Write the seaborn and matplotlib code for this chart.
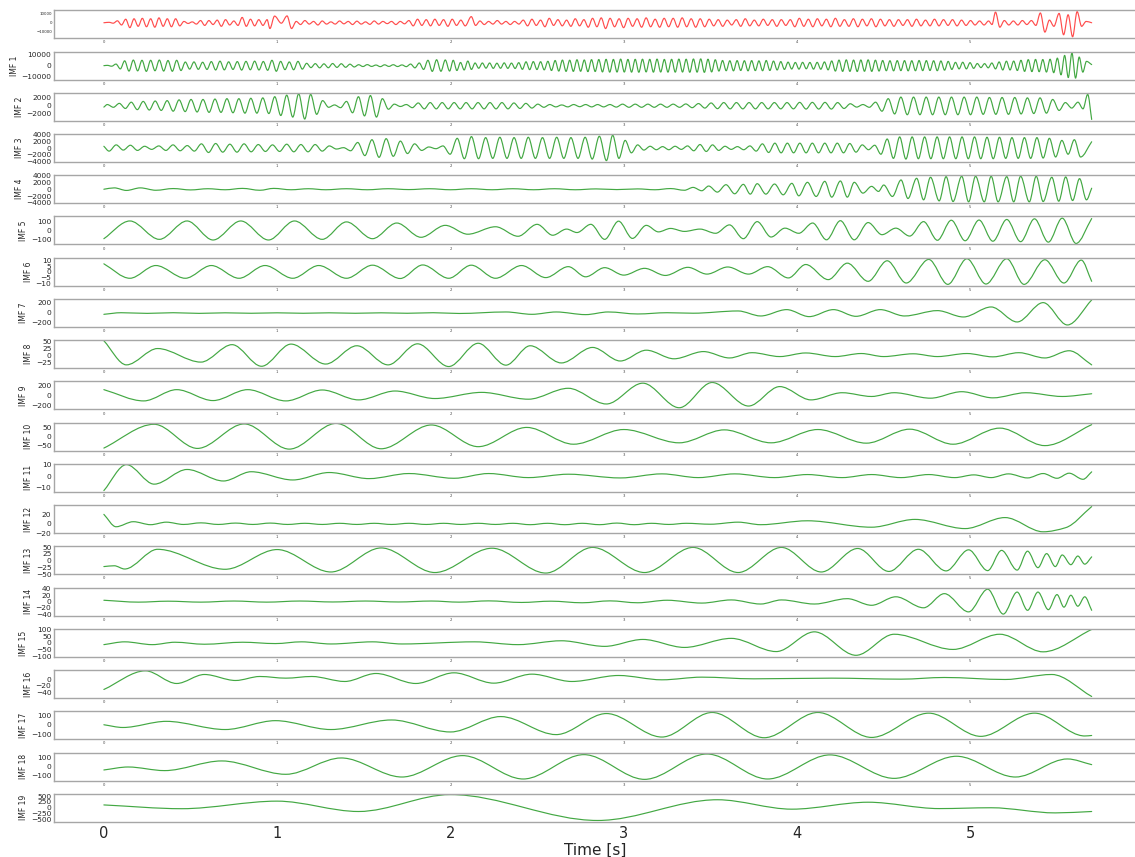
import numpy as np
import matplotlib
matplotlib.use("Agg")
import matplotlib.pyplot as plt
from matplotlib.path import Path
from matplotlib.patches import PathPatch
import seaborn as sns

# extrema (time in s, value), panel by panel

sig_t = [0.000, 0.030, 0.054, 0.078, 0.102, 0.126, 0.150, 0.174, 0.198, 0.222,
         0.246, 0.270, 0.294, 0.318, 0.342, 0.366, 0.390, 0.414, 0.438, 0.462,
         0.486, 0.510, 0.534, 0.558, 0.582, 0.606, 0.630, 0.654, 0.678, 0.702,
         0.726, 0.750, 0.774, 0.798, 0.822, 0.846, 0.870, 0.894, 0.918, 0.942,
         0.958, 0.985, 1.024, 1.057, 1.083, 1.110, 1.135, 1.160, 1.185, 1.210,
         1.235, 1.260, 1.285, 1.310, 1.335, 1.360, 1.385, 1.410, 1.435, 1.460,
         1.485, 1.510, 1.535, 1.560, 1.585, 1.610, 1.635, 1.660, 1.685, 1.710,
         1.735, 1.760, 1.785, 1.810, 1.835, 1.860, 1.885, 1.910, 1.935, 1.960,
         1.985, 2.010, 2.035, 2.060, 2.085, 2.120, 2.145, 2.170, 2.195, 2.220,
         2.245, 2.270, 2.295, 2.320, 2.345, 2.370, 2.395, 2.420, 2.445, 2.470,
         2.495, 2.520, 2.545, 2.570, 2.595, 2.620, 2.645, 2.670, 2.695, 2.720,
         2.745, 2.770, 2.795, 2.820, 2.845, 2.870, 2.895, 2.921, 2.947, 2.973,
         2.999, 3.025, 3.051, 3.077, 3.103, 3.129, 3.155, 3.181, 3.207, 3.233,
         3.259, 3.285, 3.311, 3.337, 3.363, 3.389, 3.415, 3.441, 3.467, 3.493,
         3.519, 3.545, 3.571, 3.597, 3.623, 3.649, 3.675, 3.701, 3.727, 3.753,
         3.779, 3.805, 3.831, 3.857, 3.883, 3.909, 3.935, 3.961, 3.987, 4.013,
         4.039, 4.065, 4.091, 4.117, 4.143, 4.169, 4.195, 4.221, 4.247, 4.273,
         4.299, 4.325, 4.351, 4.377, 4.403, 4.429, 4.455, 4.481, 4.507, 4.533,
         4.559, 4.585, 4.611, 4.637, 4.663, 4.689, 4.715, 4.741, 4.767, 4.793,
         4.819, 4.845, 4.871, 4.897, 4.923, 4.949, 4.975, 5.001, 5.027, 5.053,
         5.079, 5.105, 5.125, 5.145, 5.170, 5.196, 5.222, 5.248, 5.274, 5.300,
         5.326, 5.352, 5.378, 5.404, 5.430, 5.456, 5.482, 5.512, 5.538, 5.564,
         5.590, 5.616, 5.642, 5.668, 5.700]
sig_v = [0, 500, -500, 2200, -2500, 4000, -5500, 4500, -4000, 5000,
         -4500, 4500, -5000, 5500, -4000, 4500, -4500, 4500, -3500, 1500,
         -800, 1000, -1500, 2500, -3000, 2500, -2000, 3000, -4000, 3500,
         -2500, 2000, -3000, 6000, -4000, 4000, -3500, 3500, -3000, 3500,
         -6500, 7500, -500, 7700, -6500, 1500, -2000, 2500, -1500, 1500,
         -2500, 2000, -1500, 1000, -1500, 2000, -1200, 1500, -2000, 1800,
         -1500, 1000, -1800, 2000, -1500, 1500, -1000, 1500, -2000, 1500,
         -1200, 2500, -3500, 4000, -3000, 3500, -3500, 4000, -3000, 3500,
         -4000, 4000, -3000, 3000, -3500, 6900, -3000, 2000, -2000, 1500,
         -1500, 2500, -1500, 1500, -2000, 1500, -1500, 3000, -3500, 4000,
         -3000, 3000, -4500, 5000, -3000, 3500, -3500, 3000, -4000, 4500,
         -3500, 3500, -5000, 5000, -4500, 5500, -6500, 5000, -4500, 4500,
         -5500, 5000, -4000, 4500, -5000, 5500, -4500, 4000, -5000, 5000,
         -4500, 5000, -5000, 5500, -4500, 4500, -5000, 4500, -4500, 4000,
         -3500, 3500, -4000, 3000, -2500, 3500, -4000, 4500, -3500, 3000,
         -3500, 4000, -3000, 3500, -4000, 3500, -3000, 3500, -4500, 5000,
         -4000, 4000, -4500, 4500, -3500, 4000, -4500, 5000, -4000, 3500,
         -4000, 4500, -4500, 4000, -3500, 4500, -4500, 4000, -3500, 3500,
         -4000, 3500, -3000, 3500, -4000, 4000, -3500, 3000, -3500, 4000,
         -3500, 3500, -3000, 3500, -3500, 3000, -3000, 2500, -2500, 2000,
         -2500, 2000, -2000, 12000, -5000, 2500, -2500, 2000, -2500, 2500,
         -2000, 2500, -3000, 11000, -10500, 3000, -4000, 10500, -13500, 9000,
         -15800, 12500, -4000, 1500, 0]

imf1_t = [0.000,
          0.020, 0.045, 0.070, 0.095, 0.120, 0.145, 0.170, 0.195, 0.220, 0.245,
          0.270, 0.295, 0.320, 0.345, 0.370, 0.395, 0.420, 0.445, 0.470, 0.495,
          0.520, 0.545, 0.570, 0.595, 0.620, 0.645, 0.670, 0.695, 0.720, 0.745,
          0.770, 0.795, 0.820, 0.845, 0.870, 0.895, 0.920, 0.945, 0.970, 0.995,
          1.020, 1.045, 1.070, 1.095, 1.120, 1.145, 1.170, 1.195, 1.220, 1.245,
          1.270, 1.295, 1.320, 1.345, 1.370, 1.395, 1.420, 1.445, 1.470, 1.495,
          1.520, 1.545, 1.570, 1.595, 1.620, 1.645, 1.670, 1.695, 1.720, 1.745,
          1.770, 1.795, 1.820, 1.845, 1.870, 1.895, 1.920, 1.945, 1.970, 1.995,
          2.016, 2.037, 2.058, 2.079, 2.100, 2.121, 2.142, 2.163, 2.184, 2.205,
          2.226, 2.247, 2.268, 2.289, 2.310, 2.331, 2.352, 2.373, 2.394, 2.415,
          2.436, 2.457, 2.478, 2.499, 2.520, 2.541, 2.562, 2.583, 2.604, 2.625,
          2.646, 2.667, 2.688, 2.709, 2.730, 2.751, 2.772, 2.793, 2.814, 2.835,
          2.856, 2.877, 2.898, 2.919, 2.940, 2.961, 2.982, 3.003, 3.024, 3.045,
          3.066, 3.087, 3.108, 3.129, 3.150, 3.171, 3.192, 3.213, 3.234, 3.255,
          3.276, 3.297, 3.318, 3.339, 3.360, 3.381, 3.402, 3.423, 3.444, 3.465,
          3.486, 3.507, 3.528, 3.549, 3.570, 3.591, 3.612, 3.633, 3.654, 3.675,
          3.696, 3.717, 3.738, 3.759, 3.780, 3.801, 3.822, 3.843, 3.864, 3.885,
          3.906, 3.927, 3.948, 3.969, 3.990, 4.011, 4.032, 4.053, 4.074, 4.095,
          4.116, 4.137, 4.158, 4.179, 4.200, 4.221, 4.242, 4.263, 4.284, 4.305,
          4.326, 4.347, 4.368, 4.389, 4.410, 4.431, 4.452, 4.473, 4.494, 4.515,
          4.536, 4.557, 4.578, 4.599, 4.620, 4.641, 4.662, 4.683, 4.704, 4.725,
          4.746, 4.767, 4.788, 4.809, 4.830, 4.851, 4.872, 4.893, 4.914, 4.935,
          4.956, 4.977, 4.998, 5.019, 5.040, 5.061, 5.082, 5.103, 5.124, 5.145,
          5.166, 5.187, 5.208, 5.229, 5.250, 5.271, 5.292, 5.313, 5.334, 5.355,
          5.376, 5.397, 5.418, 5.439, 5.460, 5.481, 5.502, 5.523, 5.544, 5.565,
          5.586, 5.607, 5.628, 5.649, 5.670,
          5.700]
imf1_v = [0,
          300, -500, 1500, -3000, 4500, -5000, 5200, -4800, 5000, -5300,
          5000, -4700, 5200, -5000, 4800, -5200, 5000, -4500, 3400, -3200,
          3500, -3400, 3200, -3500, 3800, -4000, 4200, -3900, 3600, -3500,
          3800, -4100, 4000, -3800, 4200, -4000, 3900, -4300, 5000, -5200,
          4000, -3700, 3500, -3800, 4000, -3200, 2200, -1800, 1900, -2000,
          1700, -1900, 2000, -1600, 1800, -1500, 1400, -1200, 900, -800,
          1000, -700, 600, -900, 800, -700, 900, -800, 700, -900,
          1500, -2000, 2500, -3500, 5000, -5300, 5500, -5200, 5300, -5000,
          5000, -4500, 3000, -4000, 4300, -3500, 2500, -2400, 2500, -2300,
          2500, -2500, 2300, -2400, 2600, -2500, 2400, -2600, 2800, -3400,
          3600, -3700, 3800, -3600, 3700, -3900, 4100, -4500, 4800, -5000,
          5200, -5300, 5100, -5300, 5500, -5200, 5300, -5500, 5600, -5400,
          5700, -5800, 5900, -6000, 5800, -5900, 6100, -5900, 5800, -6000,
          5900, -6100, 6000, -5800, 5900, -6000, 6100, -5900, 5800, -6000,
          5900, -6000, 6100, -5900, 6000, -6100, 6200, -6000, 6300, -6200,
          6000, -5800, 5500, -5000, 4800, -4700, 4600, -4800, 4700, -4500,
          4600, -4800, 4700, -4600, 4500, -4700, 4800, -4500, 4300, -4000,
          3800, -3500, 3300, -3100, 3000, -3200, 3100, -2900, 3000, -3200,
          3100, -3300, 3500, -3900, 4400, -5000, 5200, -5300, 5400, -5300,
          5200, -5400, 5300, -5200, 5400, -5300, 5100, -5000, 4800, -4700,
          4600, -4800, 4700, -4600, 4700, -4800, 4600, -4700, 4800, -4600,
          4700, -4500, 4600, -4700, 4400, -4200, 4000, -3500, 3100, -3000,
          3200, -3000, 2800, -2500, 2000, -1800, 1900, -2000, 2500, -3000,
          3500, -4000, 4200, -4000, 4300, -4500, 5000, -5300, 5600, -5500,
          5800, -5600, 5700, -5900, 6000, -6500, 7000, -8500, 9500, -11000,
          11800, -11500, 8000, -6000, 4000,
          1000]

imf2_t = [0.000,
          0.020, 0.055, 0.089, 0.124, 0.158, 0.193, 0.227, 0.262, 0.296, 0.331,
          0.365, 0.400, 0.434, 0.469, 0.503, 0.538, 0.572, 0.607, 0.641, 0.676,
          0.710, 0.745, 0.779, 0.814, 0.848, 0.883, 0.917, 0.952, 0.986, 1.021,
          1.055, 1.090, 1.124, 1.159, 1.193, 1.228, 1.262, 1.297, 1.331, 1.366,
          1.400, 1.435, 1.469, 1.504, 1.538, 1.573, 1.607, 1.642, 1.676, 1.711,
          1.745, 1.780, 1.814, 1.849, 1.883, 1.918, 1.952, 1.987, 2.021, 2.056,
          2.090, 2.125, 2.159, 2.194, 2.228, 2.263, 2.297, 2.332, 2.366, 2.401,
          2.435, 2.470, 2.504, 2.539, 2.573, 2.608, 2.642, 2.677, 2.711, 2.746,
          2.780, 2.815, 2.849, 2.884,
          2.920, 2.957, 2.993, 3.030, 3.066, 3.103, 3.139, 3.176, 3.212, 3.249,
          3.285, 3.322, 3.358, 3.395, 3.431, 3.468, 3.504, 3.541, 3.577, 3.614,
          3.650, 3.687, 3.723, 3.760, 3.796, 3.833, 3.869, 3.906, 3.942, 3.979,
          4.015, 4.052, 4.088, 4.125, 4.161, 4.198, 4.234, 4.271, 4.307, 4.344,
          4.380, 4.417, 4.453, 4.490, 4.526, 4.563, 4.599, 4.636, 4.672, 4.709,
          4.745, 4.782, 4.818, 4.855, 4.891, 4.928, 4.964, 5.001, 5.037, 5.074,
          5.110, 5.147, 5.183, 5.220, 5.256, 5.293, 5.329, 5.366, 5.402, 5.439,
          5.475, 5.512, 5.548, 5.585, 5.621,
          5.650, 5.677, 5.700]
imf2_v = [-350,
          300, -400, 600, -700, 900, -1000, 1100, -1100, 1200, -1200,
          1300, -1400, 1500, -1500, 1600, -1600, 1600, -1700, 1700, -1700,
          1800, -1800, 1800, -1900, 1900, -1900, 2000, -2000, 2300, -2500,
          2700, -2900, 3050, -3400, 2900, -2200, 1300, -400, 200, -500,
          1100, -1800, 2300, -2600, 2600, -2900, 1800, -900, 400, -200,
          300, -500, 700, -800, 800, -800, 800, -800, 800, -800,
          800, -800, 800, -800, 800, -800, 800, -800, 700, -700,
          600, -600, 400, -400, 300, -300, 200, -300, 300, -250,
          300, -300, 300, -300,
          300, -350, 400, -400, 400, -400, 400, -400, 400, -400,
          400, -400, 450, -500, 550, -600, 700, -750, 800, -800,
          800, -800, 800, -800, 800, -800, 800, -800, 800, -800,
          850, -850, 850, -850, 850, -850, 800, -700, 500, -350,
          300, -400, 900, -1400, 1800, -2100, 2200, -2300, 2200, -2300,
          2200, -2300, 2200, -2300, 2200, -2300, 2200, -2300, 2200, -2200,
          2100, -2200, 2100, -2200, 2100, -2100, 2000, -2000, 2000, -1900,
          1600, -1200, 800, -600, 900,
          -800, 2900, -3500]

imf3_t = [0.000,
          0.030, 0.071, 0.112, 0.153, 0.194, 0.235, 0.276, 0.317, 0.358, 0.399,
          0.440, 0.481, 0.522, 0.563, 0.604, 0.645, 0.686, 0.727, 0.768, 0.809,
          0.850, 0.891, 0.932, 0.973, 1.014, 1.055, 1.096, 1.137, 1.178, 1.219,
          1.260, 1.301, 1.342, 1.383, 1.424, 1.465, 1.506, 1.547, 1.588, 1.629,
          1.670, 1.711, 1.752, 1.793, 1.834, 1.875, 1.916, 1.957, 1.998, 2.039,
          2.080, 2.121, 2.162, 2.203, 2.244, 2.285, 2.326, 2.367, 2.408, 2.449,
          2.490, 2.531, 2.572, 2.613, 2.654, 2.695, 2.736, 2.777, 2.818, 2.859,
          2.900,
          2.936, 2.972, 3.008, 3.044, 3.080, 3.116, 3.152, 3.188, 3.224, 3.260,
          3.296, 3.332, 3.368, 3.404, 3.440, 3.476, 3.512, 3.548, 3.584, 3.620,
          3.656, 3.692, 3.728, 3.764, 3.800, 3.836, 3.872, 3.908, 3.944, 3.980,
          4.016, 4.052, 4.088, 4.124, 4.160, 4.196, 4.232, 4.268, 4.304, 4.340,
          4.376, 4.412, 4.448, 4.484, 4.520, 4.556, 4.592, 4.628, 4.664, 4.700,
          4.736, 4.772, 4.808, 4.844, 4.880, 4.916, 4.952, 4.988, 5.024, 5.060,
          5.096, 5.132, 5.168, 5.204, 5.240, 5.276, 5.312, 5.348, 5.384, 5.420,
          5.456, 5.492, 5.528, 5.564, 5.600, 5.636,
          5.700]
imf3_v = [500,
          -900, 900, -600, 800, -700, 500, -400, 600, -700, 900,
          -800, 700, -900, 1200, -1300, 1300, -1200, 1100, -1200, 1200,
          -1100, 1000, -1000, 900, -1000, 1100, -1100, 1000, -1100, 1000,
          -900, 600, -300, 100, -800, 1600, -2200, 2400, -2700, 2700,
          -2400, 2000, -1600, 1200, -700, 300, -200, 600, -1800, 2800,
          -3100, 3300, -3100, 3000, -3000, 3100, -3000, 3000, -3000, 3100,
          -3000, 3000, -3000, 3100, -3000, 3000, -3000, 3100, -3200, 3400,
          -3650,
          3700, -3000, 2200, -1400, 900, -600, 500, -500, 400, -500,
          500, -400, 600, -800, 1000, -1000, 900, -700, 500, -400,
          400, -500, 600, -900, 1200, -1300, 1400, -1400, 1400, -1400,
          1400, -1400, 1400, -1400, 1400, -1400, 1400, -1400, 1300, -1200,
          900, -500, 800, -1800, 2600, -3000, 3200, -3200, 3200, -3100,
          3200, -3100, 3200, -3100, 3200, -3100, 3200, -3100, 3200, -3100,
          3100, -3100, 3100, -3000, 3000, -3000, 3000, -3000, 3000, -2900,
          2800, -2600, 2200, -1800, 2400, -2600,
          1800]

imf4_t = [0.00, 0.06, 0.13, 0.21, 0.30, 0.40, 0.50, 0.60, 0.70, 0.80,
          0.90, 0.98, 1.08, 1.18, 1.28, 1.40, 1.52, 1.64, 1.76, 1.88,
          2.00, 2.12, 2.24, 2.36, 2.48, 2.60, 2.72, 2.84, 2.96, 3.08,
          3.18, 3.27, 3.35, 3.40, 3.45, 3.49, 3.54, 3.59, 3.64, 3.69,
          3.73, 3.77, 3.82, 3.87, 3.92, 3.97, 4.01, 4.06, 4.11, 4.16,
          4.20, 4.25, 4.29, 4.33, 4.38, 4.43, 4.47, 4.50, 4.55, 4.60,
          4.64, 4.69, 4.73, 4.77, 4.82, 4.86, 4.90, 4.95, 4.99, 5.03,
          5.08, 5.12, 5.16, 5.21, 5.25, 5.29, 5.34, 5.38, 5.42, 5.47,
          5.51, 5.55, 5.59, 5.63, 5.67, 5.70]
imf4_v = [0, 400, -350, 400, -300, 200, -200, 150, -150, 250,
          -300, 250, -150, 150, -150, 150, -150, 150, -100, 150,
          -150, 150, -150, 150, -150, 150, -150, 100, -100, 100,
          -150, 200, -300, 540, -440, 940, -840, 1330, -1330, 1430,
          -1430, 1630, -1430, 1530, -1630, 1730, -1930, 2030, -2120, 2320,
          -2320, 2420, -2320, 2030, -1140, 840, -640, 1240, -2120, 2720,
          -2720, 3210, -3110, 3510, -3410, 3700, -3610, 3800, -3700, 3800,
          -3700, 3800, -3700, 3700, -3700, 3800, -3700, 3800, -3610, 3510,
          -3510, 3610, -3310, 3110, -3110, 300]

imf5_t = [0.00, 0.15, 0.32, 0.48, 0.63, 0.79, 0.95, 1.10, 1.26, 1.40,
          1.55, 1.69, 1.83, 1.97, 2.10, 2.26, 2.39, 2.50, 2.59, 2.67,
          2.73, 2.81, 2.89, 2.97, 3.05, 3.13, 3.20, 3.27, 3.35, 3.44,
          3.53, 3.61, 3.69, 3.77, 3.85, 3.93, 4.01, 4.09, 4.17, 4.25,
          4.33, 4.41, 4.49, 4.57, 4.65, 4.73, 4.81, 4.89, 4.97, 5.05,
          5.13, 5.21, 5.29, 5.37, 5.45, 5.53, 5.61, 5.70]
imf5_v = [-88, 102, -95, 102, -102, 102, -102, 102, -95, 92,
          -88, 80, -73, 55, -40, 40, -62, 66, -51, 15,
          -22, 66, -95, 100, -85, 55, -15, 22, -10, 15,
          -30, 60, -88, 95, -70, 25, -30, 80, -100, 105,
          -100, 85, -45, 25, -60, 95, -105, 110, -110, 112,
          -115, 118, -120, 125, -125, 132, -139, 128]

imf6_t = [0.00, 0.15, 0.30, 0.47, 0.62, 0.78, 0.93, 1.09, 1.24, 1.40,
          1.55, 1.71, 1.84, 1.99, 2.12, 2.26, 2.41, 2.55, 2.68, 2.78,
          2.89, 3.00, 3.12, 3.24, 3.37, 3.48, 3.60, 3.72, 3.83, 3.95,
          4.05, 4.18, 4.29, 4.41, 4.52, 4.63, 4.76, 4.87, 4.98, 5.09,
          5.21, 5.31, 5.43, 5.54, 5.64, 5.70]
imf6_v = [7, -5.8, 5.5, -5.8, 5.5, -5.8, 5.5, -5.8, 5.5, -5.8,
          5.8, -6, 6, -5.8, 5.8, -5.8, 5.5, -5.2, 4.5, -4.5,
          3.6, -3, 3, -3.3, 3.9, -2.1, 4.2, -2.1, 4.5, -5.5,
          6.4, -7, 7.6, -8.5, 9.7, -10, 10.9, -11.2, 11.5, -10.9,
          11.5, -11.2, 10.6, -10, 10.3, -8.5]

imf7_t = [0.00, 0.10, 0.25, 0.40, 0.55, 0.70, 0.85, 1.00, 1.15, 1.30,
          1.45, 1.60, 1.75, 1.90, 2.05, 2.32, 2.47, 2.61, 2.78, 2.91,
          3.08, 3.25, 3.40, 3.66, 3.79, 3.94, 4.07, 4.21, 4.34, 4.48,
          4.62, 4.81, 4.96, 5.12, 5.27, 5.42, 5.56, 5.70]
imf7_v = [-27, 5, -8, 5, -8, 3, -6, 3, -6, 3,
          -6, 3, -6, 5, -10, 20, -27, 20, -33, 20,
          -20, 5, -5, 40, -60, 67, -73, 67, -67, 67,
          -60, 47, -80, 120, -180, 207, -240, 260]

imf8_t = [0.00, 0.13, 0.31, 0.56, 0.74, 0.91, 1.08, 1.28, 1.46, 1.64,
          1.81, 1.99, 2.16, 2.32, 2.46, 2.64, 2.82, 2.98, 3.13, 3.29,
          3.46, 3.61, 3.74, 3.90, 4.05, 4.22, 4.37, 4.50, 4.67, 4.81,
          4.98, 5.13, 5.28, 5.43, 5.57, 5.70]
imf8_v = [53, -34, 25, -24, 39, -39, 41, -31, 35, -34,
          42, -40, 44, -35, 35, -27, 29, -20, 19, -12,
          14, -9, 10, -4, 9, -4, 7, -4, 6, -4,
          7, -5, 10, -9, 17, -34]

imf9_t = [0.00, 0.23, 0.42, 0.63, 0.83, 1.05, 1.26, 1.47, 1.68, 1.91,
          2.18, 2.45, 2.68, 2.90, 3.11, 3.32, 3.51, 3.72, 3.90, 4.08,
          4.26, 4.43, 4.56, 4.77, 4.95, 5.13, 5.32, 5.53, 5.70]
imf9_v = [119, -112, 119, -105, 119, -112, 112, -91, 91, -63,
          63, -77, 147, -175, 252, -252, 266, -217, 182, -91,
          56, -21, 56, -56, 77, -49, 56, -21, 35]

imf10_t = [0.00, 0.29, 0.54, 0.81, 1.07, 1.34, 1.60, 1.89, 2.16, 2.44, 2.71,
           3.00, 3.32, 3.58, 3.85, 4.12, 4.40, 4.65, 4.90, 5.17, 5.43, 5.70]
imf10_v = [-65, 71, -67, 73, -71, 76, -69, 67, -57, 53, -43,
           41, -35, 39, -35, 41, -37, 43, -43, 49, -51, 69]

imf11_t = [0.00, 0.13, 0.29, 0.48, 0.69, 0.85, 1.09, 1.30, 1.53, 1.76,
           2.02, 2.22, 2.45, 2.68, 2.98, 3.22, 3.43, 3.64, 3.87, 4.06,
           4.26, 4.43, 4.60, 4.76, 4.91, 5.02, 5.12, 5.22, 5.33, 5.42,
           5.50, 5.57, 5.65, 5.70]
imf11_v = [-12.7, 10.3, -7, 6, -4.2, 4, -3.3, 3.3, -2.1, 2.4,
           -1.8, 2.4, -1.2, 1.8, -1.5, 2.1, -1.2, 2.1, -1.2, 1.5,
           -1.2, 1.5, -1.2, 1.5, -1.2, 1.2, -1.2, 2.1, -1.5, 2.4,
           -1.8, 2.7, -2.7, 3.9]

imf12_t = [0.00, 0.07, 0.17, 0.27, 0.36,
           0.46, 0.56, 0.66, 0.76, 0.86, 0.96, 1.06, 1.16, 1.26, 1.36,
           1.46, 1.56, 1.66, 1.76, 1.86, 1.96, 2.06, 2.16, 2.26, 2.36,
           2.46, 2.56, 2.66, 2.76, 2.86, 2.96, 3.06, 3.16, 3.26, 3.36,
           3.50, 3.66, 3.79, 4.06, 4.43, 4.68, 4.97, 5.20, 5.42, 5.55, 5.70]
imf12_v = [21, -6, 5, -1.5, 4,
           -1, 2.5, -1, 2, -1, 2, -1, 1.5, -1, 1.5,
           -1, 1.5, -1, 1.5, -1, 1.5, -1, 1.5, -1, 1.5,
           -1.5, 1.5, -1.5, 1.5, -1.5, 2, -1.5, 1.5, -1, 1.5,
           -0.5, 4, -1.5, 7, -7, 10, -10, 14, -17, -8, 38]

imf13_t = [0.00, 0.06, 0.12, 0.31, 0.70, 1.00, 1.31, 1.60, 1.91, 2.24,
           2.55, 2.82, 3.12, 3.40, 3.66, 3.91, 4.14, 4.35, 4.53, 4.70,
           4.86, 4.99, 5.10, 5.18, 5.27, 5.33, 5.39, 5.44, 5.49, 5.53,
           5.58, 5.62, 5.66, 5.70]
imf13_v = [-22, -19, -31, 42, -32, 41, -42, 47, -44, 46,
           -46, 49, -44, 49, -44, 49, -42, 45, -40, 42,
           -38, 40, -37, 38, -35, 35, -26, 26, -22, 21,
           -15, 17, -13, 14]

imf14_t = [0.00, 0.20, 0.37, 0.56, 0.75, 0.94, 1.13, 1.32, 1.51, 1.70,
           1.89, 2.05, 2.22, 2.41, 2.58, 2.76, 2.92, 3.08, 3.25, 3.45,
           3.62, 3.79, 3.91, 4.10, 4.29, 4.43, 4.57, 4.73, 4.85, 4.99,
           5.10, 5.19, 5.27, 5.33, 5.39, 5.45, 5.50, 5.54, 5.58, 5.62,
           5.66, 5.70]
imf14_v = [4, -2, 1, -2, 1.5, -2, 1.5, -1.5, 1.5, -1.5,
           1.5, -2, 2, -3, 1, -4, 2, -4, 4, -5,
           5, -8, 5, -8, 9, -12, 15, -20, 25, -33,
           39, -40, 30, -28, 30, -26, 22, -18, 20, -15,
           15, -28]

imf15_t = [0.00, 0.12, 0.28, 0.41, 0.58, 0.80, 0.99, 1.14, 1.31, 1.55,
           1.72, 2.14, 2.39, 2.64, 2.89, 3.11, 3.35, 3.62, 3.88, 4.10,
           4.34, 4.56, 4.90, 5.17, 5.42, 5.70]
imf15_v = [-13, 8, -13, 5, -10, 5, -5, 8, -8, 8,
           -8, 8, -13, 16, -26, 26, -34, 34, -65, 83,
           -93, 65, -49, 65, -67, 101]

imf16_t = [0.00, 0.24, 0.42, 0.58, 0.76, 0.90, 1.05, 1.20, 1.39, 1.57,
           1.80, 2.02, 2.25, 2.47, 2.70, 2.97, 3.22, 3.45, 3.75, 4.20,
           4.60, 4.85, 5.20, 5.47, 5.70]
imf16_v = [-31, 25, -13, 14, -4, 8, 3, 8, -7, 17,
           -13, 19, -12, 15, -7, 11, -2, 6, 1, 3,
           0, 5, -1, 14, -52]

imf17_t = [0.00, 0.11, 0.36, 0.70, 0.99, 1.31, 1.66, 2.00, 2.29, 2.61,
           2.90, 3.22, 3.51, 3.81, 4.12, 4.43, 4.76, 5.06, 5.37, 5.66, 5.70]
imf17_v = [0, -28, 35, -49, 42, -49, 49, -74, 84, -101,
           115, -126, 126, -133, 126, -130, 119, -119, 119, -115, -110]

imf18_t = [0.00, 0.14, 0.35, 0.68, 1.05, 1.37, 1.72, 2.07, 2.42, 2.77,
           3.12, 3.48, 3.83, 4.19, 4.56, 4.92, 5.26, 5.56, 5.70]
imf18_v = [-37, -4, -44, 63, -85, 96, -115, 122, -137, 133,
           -141, 140, -137, 130, -130, 115, -115, 85, 22]

imf19_t = [0.00, 0.45, 1.00, 1.47, 2.00, 2.85, 3.54, 3.97, 4.41, 4.82, 5.12, 5.49, 5.70]
imf19_v = [125, -35, 286, -154, 565, -535, 345, -55, 240, -30, 5, -213, -154]

panel_names = [""] + ["IMF %d" % i for i in range(1, 20)]
y_limits = [(-17400, 14000), (-12800, 13100), (-3830, 3300), (-4040, 4040), (-4100, 4100),
            (-150, 150), (-12.4, 12.4), (-280, 280), (-46, 55), (-287, 287),
            (-80, 80), (-13.9, 10.9), (-20, 41), (-51, 52.6), (-45, 44),
            (-105, 105), (-57, 27), (-150, 137), (-155, 155), (-594, 594)]
y_ticks = [[-10000, 0, 10000], [-10000, 0, 10000], [-2000, 0, 2000],
           [-4000, -2000, 0, 2000, 4000], [-4000, -2000, 0, 2000, 4000],
           [-100, 0, 100], [-10, -5, 0, 5, 10], [-200, 0, 200], [-25, 0, 25, 50],
           [-200, 0, 200], [-50, 0, 50], [-10, 0, 10], [-20, 0, 20],
           [-50, -25, 0, 25, 50], [-40, -20, 0, 20, 40], [-100, -50, 0, 50, 100],
           [-40, -20, 0], [-100, 0, 100], [-100, 0, 100], [-500, -250, 0, 250, 500]]
x_ticks = [0, 1, 2, 3, 4, 5]

series = [(sig_t, sig_v), (imf1_t, imf1_v), (imf2_t, imf2_v), (imf3_t, imf3_v),
          (imf4_t, imf4_v), (imf5_t, imf5_v), (imf6_t, imf6_v), (imf7_t, imf7_v),
          (imf8_t, imf8_v), (imf9_t, imf9_v), (imf10_t, imf10_v), (imf11_t, imf11_v),
          (imf12_t, imf12_v), (imf13_t, imf13_v), (imf14_t, imf14_v), (imf15_t, imf15_v),
          (imf16_t, imf16_v), (imf17_t, imf17_v), (imf18_t, imf18_v), (imf19_t, imf19_v)]


def smooth_path(t, v):
    # monotone cubic through the extrema, handed to matplotlib as bezier segments
    t = np.asarray(t, float)
    v = np.asarray(v, float)
    h = np.diff(t)
    d = np.diff(v) / h
    m = np.zeros_like(v)
    for i in range(1, len(v) - 1):
        if d[i - 1] * d[i] > 0:
            m[i] = 2.0 / (1.0 / d[i - 1] + 1.0 / d[i])
    m[0] = d[0]
    m[-1] = d[-1]
    verts = [(t[0], v[0])]
    codes = [Path.MOVETO]
    for i in range(len(h)):
        verts += [(t[i] + h[i] / 3, v[i] + m[i] * h[i] / 3),
                  (t[i + 1] - h[i] / 3, v[i + 1] - m[i + 1] * h[i] / 3),
                  (t[i + 1], v[i + 1])]
        codes += [Path.CURVE4] * 3
    return Path(verts, codes)


sns.set_theme(style="white")
plt.rcParams["font.family"] = ["DejaVu Sans"]

fig, axes = plt.subplots(20, 1, figsize=(11.35, 8.57), dpi=100,
                         gridspec_kw=dict(left=0.048, right=1.0, top=0.988,
                                          bottom=0.041, hspace=0.474))

for i, ax in enumerate(axes):
    t, v = series[i]
    assert len(t) == len(v), (i, len(t), len(v))
    color = "#ff4d4d" if i == 0 else "#43a843"
    ax.add_patch(PathPatch(smooth_path(t, v), facecolor="none", edgecolor=color,
                           lw=0.85, capstyle="round", joinstyle="round"))
    ax.set_xlim(-0.285, 5.95)
    ax.set_ylim(*y_limits[i])
    ax.set_yticks(y_ticks[i])
    ax.set_xticks(x_ticks)
    for s in ax.spines.values():
        s.set_color("#a6a6a6")
        s.set_linewidth(1.0)
    sns.despine(ax=ax, top=False, right=True, left=False, bottom=False)
    ax.tick_params(axis="both", length=0, pad=2)
    if i == 0:
        ax.tick_params(axis="y", labelsize=2.8, pad=1.5)
    else:
        ax.tick_params(axis="y", labelsize=5.4, pad=2.2)
        ax.set_ylabel(panel_names[i], fontsize=5.5, labelpad=1.9)
    if i < 19:
        ax.tick_params(axis="x", labelsize=2.7, labelcolor="#444444", pad=1.5)
    else:
        ax.tick_params(axis="x", labelsize=10.5, pad=3)
        ax.set_xlabel("Time [s]", fontsize=11, labelpad=1)

fig.savefig("out.png", dpi=100)
